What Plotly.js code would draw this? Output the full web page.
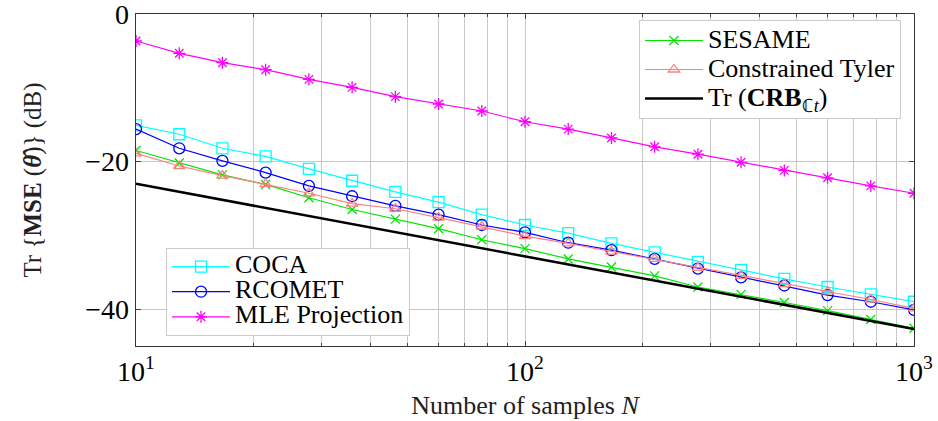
<!DOCTYPE html>
<html>
<head>
<meta charset="utf-8">
<script src="https://cdn.plot.ly/plotly-3.0.1.min.js"></script>
<style>html,body{margin:0;padding:0;background:#fff;}#chart{width:938px;height:421px;}</style>
</head>
<body>
<div id="chart"></div>
<script>
const samplesN = [10, 12.92, 16.68, 21.54, 27.83, 35.94, 46.42, 59.95, 77.43, 100, 129.15, 166.81, 215.44, 278.26, 359.38, 464.16, 599.48, 774.26, 1000];
const coca    = [-15.1, -16.3, -18.2, -19.3, -21.0, -22.6, -24.1, -25.5, -27.2, -28.6, -29.7, -31.1, -32.3, -33.6, -34.7, -35.9, -37.0, -38.0, -39.0];
const rcomet  = [-15.6, -18.2, -19.9, -21.5, -23.3, -24.7, -26.0, -27.2, -28.6, -29.6, -31.0, -32.0, -33.2, -34.5, -35.7, -36.8, -38.1, -39.0, -40.1];
const mleProj = [-3.66, -5.33, -6.6, -7.55, -8.86, -9.94, -11.2, -12.2, -13.15, -14.6, -15.6, -16.8, -18.0, -19.0, -20.1, -21.2, -22.2, -23.3, -24.3];
const sesame  = [-18.5, -20.2, -21.8, -23.1, -24.9, -26.5, -27.8, -29.1, -30.6, -31.8, -33.2, -34.3, -35.5, -37.0, -38.0, -39.1, -40.2, -41.4, -42.6];
const tyler   = [-18.9, -20.6, -21.9, -23.05, -24.3, -25.7, -26.4, -27.6, -28.8, -30.1, -31.1, -32.2, -33.2, -34.4, -35.5, -36.6, -37.6, -38.7, -39.9];
const crb     = [-23.0, -24.1, -25.2, -26.3, -27.4, -28.5, -29.5, -30.6, -31.7, -32.8, -33.9, -35.0, -36.1, -37.2, -38.3, -39.4, -40.5, -41.6, -42.7];

const xTickVals = [10, 100, 1000];
const xTickText = ['10<sup>1</sup>', '10<sup>2</sup>', '10<sup>3</sup>'];
const xMinorVals = [20,30,40,50,60,70,80,90,200,300,400,500,600,700,800,900];
const yTickVals = [-40, -20, 0];
const yTickText = ['\u221240', '\u221220', '0'];

const seriesNames = ['COCA', 'RCOMET', 'MLE Projection', 'SESAME', 'Constrained Tyler', 'Tr (<b>CRB</b><sub>\u2102<i>t</i></sub>)'];

const FONT = 'Liberation Serif';
const big = s => '<span style="font-family:Liberation Serif;font-size:26px">' + s + '</span>';

const traces = [
  {x: samplesN, y: coca, name: big(seriesNames[0]), mode: 'lines+markers', legend: 'legend2',
   line: {color: '#00ffff', width: 1.2}, marker: {symbol: 'square-open', size: 11, color: '#00ffff', line: {width: 1.3}}},
  {x: samplesN, y: rcomet, name: big(seriesNames[1]), mode: 'lines+markers', legend: 'legend2',
   line: {color: '#0000ff', width: 1.2}, marker: {symbol: 'circle-open', size: 11, color: '#0000ff', line: {width: 1.3}}},
  {x: samplesN, y: mleProj, name: big(seriesNames[2]), mode: 'lines+markers', legend: 'legend2',
   line: {color: '#ff00ff', width: 1.2}, marker: {symbol: 'asterisk-open', size: 10, color: '#ff00ff', line: {width: 1.3, color: '#ff00ff'}}},
  {x: samplesN, y: sesame, name: big(seriesNames[3]), mode: 'lines+markers', legend: 'legend',
   line: {color: '#00e600', width: 1.2}, marker: {symbol: 'x-thin-open', size: 9, color: '#00e600', line: {width: 1.3, color: '#00e600'}}},
  {x: samplesN, y: tyler, name: big(seriesNames[4]), mode: 'lines+markers', legend: 'legend',
   line: {color: '#ff8080', width: 1.2}, marker: {symbol: 'triangle-up-open', size: 10, color: '#ff8080', line: {width: 1.3}}},
  {x: samplesN, y: crb, name: big(seriesNames[5]), mode: 'lines', legend: 'legend',
   line: {color: '#000000', width: 2.5}}
];

const legendCommon = {
  bgcolor: '#ffffff', bordercolor: '#cccccc', borderwidth: 1,
  itemwidth: 58, tracegroupgap: 0, xanchor: 'left', yanchor: 'top'
};

const layout = {
  width: 938, height: 421,
  margin: {l: 136, r: 24, t: 14, b: 75},
  paper_bgcolor: '#fff', plot_bgcolor: '#fff',
  font: {family: FONT, color: '#000'},
  showlegend: true,
  legend: Object.assign({}, legendCommon, {x: 0.6465, y: 0.982, font: {family: FONT, size: 20, color: '#000'}}),
  legend2: Object.assign({}, legendCommon, {x: 0.0386, y: 0.295, font: {family: FONT, size: 17, color: '#000'}}),
  xaxis: {
    type: 'log', range: [1, 3], automargin: false, ticklabeloverflow: 'allow',
    tickmode: 'array', tickvals: xTickVals, ticktext: xTickText,
    minor: {tickmode: 'array', tickvals: xMinorVals, showgrid: true, gridcolor: '#c8c8c8', gridwidth: 1, ticks: 'inside', ticklen: 3, tickcolor: '#444'},
    showgrid: true, gridcolor: '#c8c8c8', gridwidth: 1,
    ticks: 'inside', ticklen: 5, tickcolor: '#444',
    showline: true, linecolor: '#333', linewidth: 1.3, mirror: 'ticks',
    zeroline: false,
    tickfont: {family: FONT, size: 28, color: '#000'},
    title: {text: 'Number of samples <i>N</i>', font: {family: FONT, size: 26, color: '#222'}, standoff: 10}
  },
  yaxis: {
    range: [-45, 0], automargin: false, ticklabeloverflow: 'allow',
    tickmode: 'array', tickvals: yTickVals, ticktext: yTickText,
    showgrid: true, gridcolor: '#c8c8c8', gridwidth: 1,
    ticks: 'inside', ticklen: 5, tickcolor: '#444',
    showline: true, linecolor: '#333', linewidth: 1.3, mirror: 'ticks',
    zeroline: false,
    tickfont: {family: FONT, size: 28, color: '#000'},
    title: {text: 'Tr {<b>MSE</b> (<b><i>\u03b8\u0302</i></b>)} (dB)', font: {family: FONT, size: 25, color: '#222'}, standoff: 36}
  }
};

Plotly.newPlot('chart', traces, layout, {displayModeBar: false, staticPlot: true});
</script>
</body>
</html>
